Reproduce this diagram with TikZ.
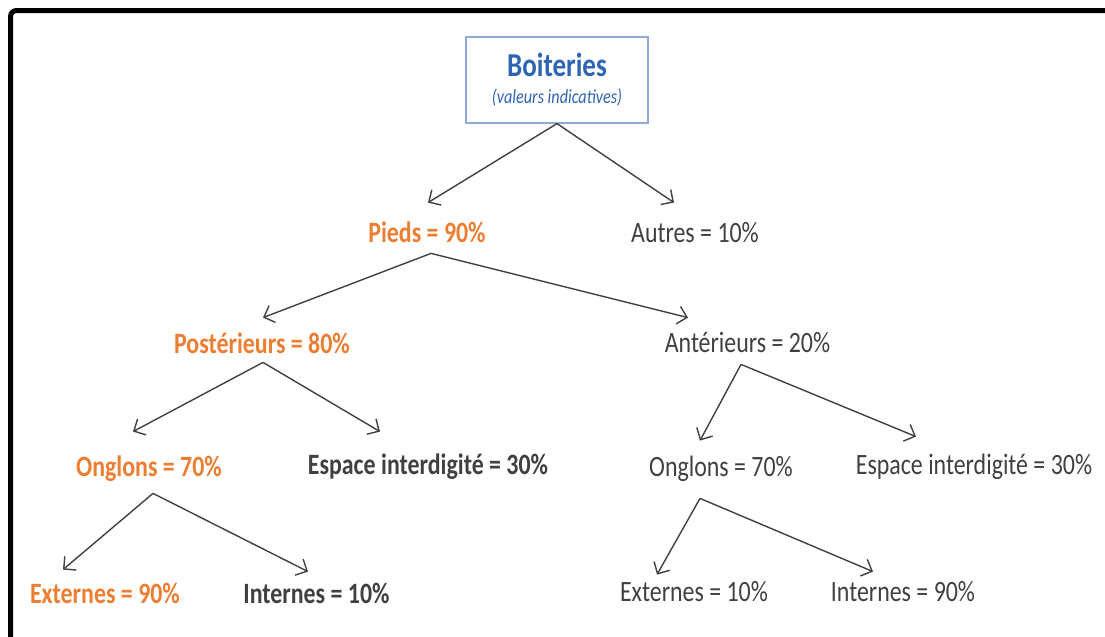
\documentclass[tikz,border=0pt]{standalone}
\usepackage{fontspec}
\setmainfont{Carlito}[FakeStretch=0.81]
\usetikzlibrary{arrows.meta,calc}
\definecolor{orangeText}{HTML}{ED7D31}
\definecolor{greyText}{HTML}{404040}
\definecolor{blueText}{HTML}{2E64B4}
\definecolor{blueLine}{HTML}{8EAADB}
\tikzstyle{baseLabel}=[inner xsep=0pt, inner ysep=2.5pt, text height=10pt, text depth=3pt, anchor=base, font=\fontsize{14.75}{17}\selectfont]
\tikzstyle{orangeLabel}=[baseLabel, text=orangeText, font=\fontsize{14.75}{17}\selectfont\bfseries]
\tikzstyle{greyLabel}=[baseLabel, text=greyText]
\tikzstyle{darkLabel}=[baseLabel, text=greyText, font=\fontsize{14.75}{17}\selectfont\bfseries]
\tikzstyle{arrowEdge}=[draw=greyText, line width=0.7pt, -{Straight Barb[length=4.5pt,width=9pt]}]

\begin{document}
\begin{tikzpicture}[x=0.5pt,y=-0.5pt]
      \useasboundingbox (0,0) rectangle (1105,637);
      \draw[line width=2.5pt, rounded corners=3] (10.5,637) -- (10.5,10.5) -- (1105,10.5);

      \node[draw=blueLine, line width=0.6pt, minimum width=91pt, minimum height=43pt, inner sep=0pt] (boite) at (557,80) {};
      \node[anchor=base, inner sep=0pt, text=blueText, font=\fontsize{16.7}{20}\selectfont\bfseries] (titre) at (557,76) {Boiteries};
      \node[anchor=base, inner sep=0pt, text=blueText, font=\fontsize{10}{12}\selectfont\itshape] (sousTitre) at (557,103) {(valeurs indicatives)};

      \node[orangeLabel] (pieds) at (427,242) {Pieds = 90\%};
      \node[greyLabel] (autres) at (695,242) {Autres = 10\%};
      \node[orangeLabel] (posterieurs) at (262,353) {Postérieurs = 80\%};
      \node[greyLabel] (anterieurs) at (747.5,352) {Antérieurs = 20\%};
      \node[orangeLabel] (onglonsPost) at (149,476) {Onglons = 70\%};
      \node[darkLabel] (espacePost) at (428,474) {Espace interdigité = 30\%};
      \node[greyLabel] (onglonsAnt) at (721,476) {Onglons = 70\%};
      \node[greyLabel] (espaceAnt) at (974,474) {Espace interdigité = 30\%};
      \node[orangeLabel] (externesPost) at (105,603) {Externes = 90\%};
      \node[darkLabel] (internesPost) at (316.5,603) {Internes = 10\%};
      \node[greyLabel] (externesAnt) at (694,601) {Externes = 10\%};
      \node[greyLabel] (internesAnt) at (903,601) {Internes = 90\%};

      \draw[arrowEdge] (boite.south) -- ($(pieds.north)+(1,-14)$);
      \draw[arrowEdge] (boite.south) -- ($(autres.north)+(-21,-14)$);
      \draw[arrowEdge] ($(pieds.south)+(4,0)$) -- ($(posterieurs.north)+(1,-10)$);
      \draw[arrowEdge] ($(pieds.south)+(4,0)$) -- ($(anterieurs.north)+(-59.5,-9)$);
      \draw[arrowEdge] ($(posterieurs.south)+(1,-2)$) -- ($(onglonsPost.north)+(-16,-19)$);
      \draw[arrowEdge] ($(posterieurs.south)+(1,-2)$) -- ($(espacePost.north)+(-48,-17)$);
      \draw[arrowEdge] ($(anterieurs.south)+(-6.5,1)$) -- ($(onglonsAnt.north)+(-21,-10)$);
      \draw[arrowEdge] ($(anterieurs.south)+(-6.5,1)$) -- ($(espaceAnt.north)+(-58,-12)$);
      \draw[arrowEdge] ($(onglonsPost.south)+(4,6)$) -- ($(externesPost.north)+(-42,-8)$);
      \draw[arrowEdge] ($(onglonsPost.south)+(4,6)$) -- ($(internesPost.north)+(-8.5,-6)$);
      \draw[arrowEdge] ($(onglonsAnt.south)+(-21,11)$) -- ($(externesAnt.north)+(-37,-1)$);
      \draw[arrowEdge] ($(onglonsAnt.south)+(-21,11)$) -- ($(internesAnt.north)+(-30,-4)$);
    \end{tikzpicture}
\end{document}
